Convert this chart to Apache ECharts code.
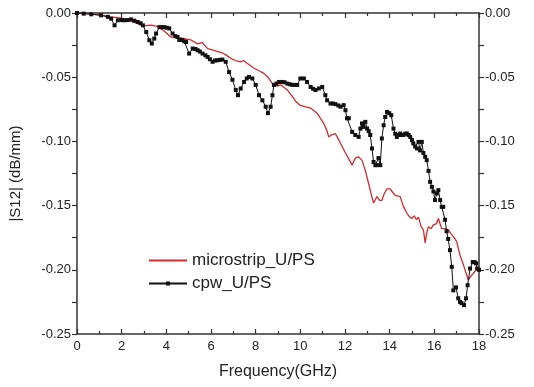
<!DOCTYPE html>
<html><head><meta charset="utf-8">
<script src="https://cdn.jsdelivr.net/npm/echarts@6/dist/echarts.min.js"></script>
<style>html,body{margin:0;padding:0;background:#fff}#c{width:534px;height:387px}</style>
</head><body><div id="c"></div>
<script>
var xTicks = [0, 2, 4, 6, 8, 10, 12, 14, 16, 18];
var yTicks = [-0.25, -0.20, -0.15, -0.10, -0.05, 0.00];
var seriesNames = ['microstrip_U/PS', 'cpw_U/PS'];

var microX = [0,0.5,1.0,1.5,2.0,2.5,3.0,3.3,3.6,3.9,4.2,4.5,4.8,5.1,5.4,5.6,5.85,6.1,6.3,6.5,6.7,6.9,7.1,7.33,7.45,7.6,7.93,8.15,8.37,8.55,8.75,8.97,9.1,9.2,9.42,9.64,9.8,10.0,10.2,10.46,10.6,10.75,10.9,11.05,11.2,11.27,11.4,11.57,11.7,11.8,11.9,12.02,12.15,12.32,12.46,12.6,12.76,12.9,13.06,13.2,13.28,13.43,13.55,13.65,13.75,13.88,14.03,14.15,14.25,14.47,14.6,14.77,14.9,14.99,15.1,15.2,15.29,15.4,15.51,15.59,15.65,15.73,15.85,15.96,16.1,16.18,16.33,16.5,16.63,16.75,16.85,17.0,17.15,17.3,17.52,17.63,17.74,17.92,18];
var microY = [0,-0.0005,-0.0015,-0.003,-0.004,-0.007,-0.010,-0.0095,-0.0105,-0.014,-0.0187,-0.019,-0.020,-0.021,-0.024,-0.023,-0.0277,-0.029,-0.030,-0.031,-0.033,-0.0355,-0.037,-0.038,-0.037,-0.039,-0.043,-0.045,-0.047,-0.050,-0.055,-0.057,-0.056,-0.057,-0.060,-0.065,-0.069,-0.072,-0.073,-0.074,-0.076,-0.078,-0.082,-0.086,-0.092,-0.0965,-0.095,-0.094,-0.098,-0.1016,-0.105,-0.109,-0.113,-0.1185,-0.113,-0.112,-0.1146,-0.122,-0.133,-0.143,-0.148,-0.143,-0.146,-0.146,-0.141,-0.137,-0.137,-0.140,-0.142,-0.143,-0.150,-0.156,-0.159,-0.160,-0.158,-0.161,-0.159,-0.166,-0.169,-0.179,-0.172,-0.1665,-0.168,-0.165,-0.164,-0.160,-0.168,-0.168,-0.169,-0.172,-0.174,-0.178,-0.1886,-0.196,-0.208,-0.205,-0.203,-0.199,-0.201];

var cpwX = [0,0.3,0.64,1.08,1.38,1.53,1.68,1.83,2.0,2.12,2.27,2.42,2.57,2.72,2.85,2.95,3.1,3.24,3.35,3.46,3.54,3.69,3.8,3.91,4.02,4.13,4.28,4.4,4.5,4.58,4.7,4.8,4.88,5.02,5.18,5.3,5.4,5.5,5.62,5.75,5.85,5.95,6.07,6.18,6.29,6.4,6.51,6.66,6.81,6.96,7.11,7.21,7.33,7.48,7.6,7.7,7.85,8.0,8.15,8.3,8.45,8.55,8.67,8.75,8.82,8.93,9.04,9.19,9.3,9.42,9.53,9.64,9.75,9.86,10.0,10.16,10.3,10.46,10.57,10.68,10.83,10.98,11.12,11.2,11.35,11.46,11.57,11.7,11.8,11.94,12.02,12.09,12.17,12.32,12.46,12.61,12.69,12.76,12.83,12.91,12.99,13.06,13.13,13.21,13.28,13.36,13.43,13.5,13.58,13.65,13.73,13.8,13.88,13.98,14.07,14.17,14.25,14.32,14.4,14.47,14.55,14.62,14.7,14.77,14.85,14.92,15.0,15.06,15.14,15.22,15.29,15.36,15.44,15.51,15.59,15.66,15.74,15.81,15.89,15.96,16.03,16.11,16.18,16.26,16.33,16.4,16.48,16.55,16.62,16.7,16.78,16.85,16.97,17.07,17.15,17.22,17.33,17.42,17.49,17.6,17.72,17.8,17.87,17.92,18];
var cpwY = [0,-0.0005,-0.001,-0.0018,-0.003,-0.0044,-0.0096,-0.0057,-0.0055,-0.0057,-0.0055,-0.005,-0.006,-0.007,-0.008,-0.0096,-0.0148,-0.0212,-0.0238,-0.0199,-0.016,-0.011,-0.011,-0.011,-0.0115,-0.012,-0.016,-0.018,-0.0187,-0.021,-0.021,-0.022,-0.0226,-0.0316,-0.0277,-0.028,-0.029,-0.030,-0.0316,-0.033,-0.0342,-0.036,-0.038,-0.037,-0.0368,-0.0365,-0.0363,-0.038,-0.046,-0.052,-0.060,-0.064,-0.0588,-0.0537,-0.051,-0.0498,-0.051,-0.056,-0.064,-0.068,-0.073,-0.078,-0.073,-0.064,-0.056,-0.055,-0.0537,-0.0537,-0.054,-0.055,-0.0555,-0.056,-0.056,-0.056,-0.051,-0.051,-0.0537,-0.0576,-0.059,-0.060,-0.0588,-0.0576,-0.064,-0.068,-0.0705,-0.0705,-0.071,-0.072,-0.073,-0.0718,-0.0757,-0.082,-0.082,-0.0926,-0.095,-0.0965,-0.090,-0.086,-0.0887,-0.0848,-0.090,-0.092,-0.095,-0.1055,-0.116,-0.1185,-0.1185,-0.113,-0.1185,-0.0977,-0.0874,-0.081,-0.077,-0.078,-0.0796,-0.090,-0.094,-0.0965,-0.095,-0.0939,-0.095,-0.095,-0.094,-0.0939,-0.095,-0.0965,-0.099,-0.1016,-0.104,-0.1055,-0.1004,-0.107,-0.1004,-0.109,-0.112,-0.1146,-0.123,-0.1315,-0.1354,-0.139,-0.1457,-0.1405,-0.138,-0.1457,-0.151,-0.151,-0.161,-0.170,-0.176,-0.1847,-0.1977,-0.216,-0.2137,-0.2222,-0.225,-0.226,-0.2275,-0.2222,-0.212,-0.199,-0.194,-0.194,-0.195,-0.199,-0.200];

function pairs(xs, ys) { return xs.map(function (x, i) { return [x, ys[i]]; }); }

var FONT = 'Liberation Sans, Arial, sans-serif';
var axisColor = '#333';
function xAx(pos, showLabel) {
  return {
    type: 'value', position: pos, min: xTicks[0], max: xTicks[xTicks.length - 1], interval: 2,
    name: showLabel ? 'Frequency(GHz)' : '', nameLocation: 'middle', nameGap: 30,
    nameTextStyle: { fontFamily: FONT, fontSize: 16, color: '#222' },
    axisLine: { show: true, onZero: false, lineStyle: { color: axisColor, width: 1.5 } },
    axisTick: { show: true, inside: true, length: 5, lineStyle: { color: axisColor, width: 1.2 } },
    minorTick: { show: true, splitNumber: 2, length: 3, lineStyle: { color: axisColor, width: 1.2 } },
    axisLabel: { show: showLabel, fontFamily: FONT, fontSize: 13, color: '#222', margin: 6 },
    splitLine: { show: false }
  };
}
function yAx(pos, withName) {
  return {
    type: 'value', position: pos, min: yTicks[0], max: yTicks[yTicks.length - 1], interval: 0.05,
    name: withName ? '|S12| (dB/mm)' : '', nameLocation: 'middle', nameGap: 54, nameRotate: 90,
    nameTextStyle: { fontFamily: FONT, fontSize: 15, color: '#222' },
    axisLine: { show: true, onZero: false, lineStyle: { color: axisColor, width: 1.5 } },
    axisTick: { show: true, inside: false, length: 5, lineStyle: { color: axisColor, width: 1.2 } },
    minorTick: { show: true, splitNumber: 2, length: 5, lineStyle: { color: axisColor, width: 1.2 } },
    axisLabel: { fontFamily: FONT, fontSize: 13, color: '#222', margin: 6,
      formatter: function (v) { return v.toFixed(2); } },
    splitLine: { show: false }
  };
}

var chart = echarts.init(document.getElementById('c'), null, { renderer: 'canvas' });
chart.setOption({
  animation: false,
  backgroundColor: '#fff',
  grid: { left: 76, right: 55, top: 13, bottom: 53, containLabel: false },
  legend: {
    orient: 'vertical', left: 143, top: 247, itemWidth: 38, itemHeight: 5, itemGap: 6,
    textStyle: { fontFamily: FONT, fontSize: 17, color: '#222' },
    data: [
      { name: seriesNames[0], itemStyle: { color: 'rgba(0,0,0,0)', opacity: 0, borderWidth: 0 } },
      { name: seriesNames[1] }
    ]
  },
  xAxis: [xAx('bottom', true), xAx('top', false)],
  yAxis: [yAx('left', true), yAx('right', false)],
  series: [
    { name: seriesNames[0], type: 'line', data: pairs(microX, microY), showSymbol: false, symbol: 'none',
      lineStyle: { color: '#d42a2a', width: 1.3 }, itemStyle: { color: '#d42a2a' } },
    { name: seriesNames[1], type: 'line', data: pairs(cpwX, cpwY), symbol: 'rect', symbolSize: 4, showSymbol: true,
      lineStyle: { color: '#111', width: 1 }, itemStyle: { color: '#111' } }
  ]
});
</script></body></html>
